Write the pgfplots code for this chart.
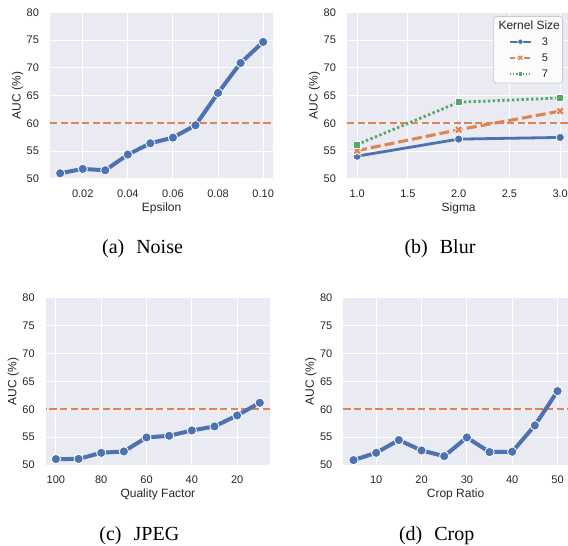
\documentclass[border=0pt]{standalone}
\usepackage{fontspec}
\setmainfont{Liberation Sans}
\newfontfamily\capfont{Liberation Serif}
\usepackage{pgfplots}
\usepackage{pgfplotstable}
\pgfplotsset{compat=1.18}
\definecolor{bgc}{HTML}{EAEAF2}
\definecolor{sblue}{HTML}{4C72B0}
\definecolor{sorange}{HTML}{DD8452}
\definecolor{sgreen}{HTML}{55A868}
\definecolor{txt}{HTML}{262626}
\definecolor{lgedge}{HTML}{CCCCCC}

\pgfdeclareplotmark{Xf}{%
  \pgftransformrotate{45}%
  \pgfpathmoveto{\pgfqpoint{0.38\pgfplotmarksize}{0.38\pgfplotmarksize}}%
  \pgfpathlineto{\pgfqpoint{0.38\pgfplotmarksize}{\pgfplotmarksize}}%
  \pgfpathlineto{\pgfqpoint{-0.38\pgfplotmarksize}{\pgfplotmarksize}}%
  \pgfpathlineto{\pgfqpoint{-0.38\pgfplotmarksize}{0.38\pgfplotmarksize}}%
  \pgfpathlineto{\pgfqpoint{-\pgfplotmarksize}{0.38\pgfplotmarksize}}%
  \pgfpathlineto{\pgfqpoint{-\pgfplotmarksize}{-0.38\pgfplotmarksize}}%
  \pgfpathlineto{\pgfqpoint{-0.38\pgfplotmarksize}{-0.38\pgfplotmarksize}}%
  \pgfpathlineto{\pgfqpoint{-0.38\pgfplotmarksize}{-\pgfplotmarksize}}%
  \pgfpathlineto{\pgfqpoint{0.38\pgfplotmarksize}{-\pgfplotmarksize}}%
  \pgfpathlineto{\pgfqpoint{0.38\pgfplotmarksize}{-0.38\pgfplotmarksize}}%
  \pgfpathlineto{\pgfqpoint{\pgfplotmarksize}{-0.38\pgfplotmarksize}}%
  \pgfpathlineto{\pgfqpoint{\pgfplotmarksize}{0.38\pgfplotmarksize}}%
  \pgfpathclose
  \pgfusepathqfillstroke}

\pgfplotstableread{
x y
0.01 51.02
0.02 51.80
0.03 51.56
0.04 54.38
0.05 56.42
0.06 57.44
0.07 59.66
0.08 65.48
0.09 70.88
0.10 74.66
}\noisedata

\pgfplotstableread{
x y
1 54.10
2 57.17
3 57.47
}\blurthree
\pgfplotstableread{
x y
1 55.10
2 58.86
3 62.20
}\blurfive
\pgfplotstableread{
x y
1 56.20
2 63.80
3 64.58
}\blurseven

\pgfplotstableread{
x y
100 51.07
90 51.10
80 52.20
70 52.44
60 54.95
50 55.25
40 56.20
30 56.93
20 58.90
10 61.17
}\jpegdata

\pgfplotstableread{
x y
5 50.89
10 52.20
15 54.48
20 52.62
25 51.60
30 54.95
35 52.33
40 52.39
45 57.10
50 63.26
}\cropdata

\pgfplotsset{
  sea/.style={
    scale only axis, width=167.5pt, height=125pt,
    axis background/.style={fill=bgc},
    axis line style={draw=none},
    major tick length=0pt, minor tick length=0pt,
    grid=major, major grid style={white, line width=0.8pt},
    ymin=50, ymax=80, ytick={50,55,60,65,70,75,80},
    tick label style={font=\fontsize{8.25}{9.9}\selectfont, text=txt, inner sep=0pt},
    xticklabel style={anchor=north, yshift=-7.7pt},
    yticklabel style={anchor=east, xshift=-8.1pt},
    /pgf/number format/assume math mode=true,
    label style={font=\fontsize{9}{10.8}\selectfont, text=txt, inner sep=0pt},
    xlabel style={at={(axis description cs:0.5,0)}, anchor=base, yshift=-24.4pt},
    ylabel style={at={([xshift=-20pt]axis description cs:0,0.5)}, anchor=south},
    ylabel={AUC (\%)},
    clip=false,
  },
  refline/.style={draw=sorange, line width=1.35pt, dash pattern=on 5.5pt off 2.5pt, forget plot, mark=none},
  mainline/.style={sblue, line width=3pt, mark=*, mark size=3.5pt,
    mark options={fill=sblue, draw=white, line width=0.6pt, solid}},
}

\begin{document}
\begin{tikzpicture}
\path[use as bounding box] (0pt,0pt) rectangle (426pt,-409.5pt);

% (a) Noise
\begin{axis}[sea, at={(37.5pt,-9.2pt)}, anchor=north west,
  xmin=0.0055, xmax=0.1045,
  xtick={0.02,0.04,0.06,0.08,0.10},
  xticklabels={0.02,0.04,0.06,0.08,0.10},
  xlabel={Epsilon}]
\addplot[mainline] table[x=x,y=y] {\noisedata};
\addplot[refline] coordinates {(0.0055,60) (0.1045,60)};
\end{axis}

% (b) Blur
\begin{axis}[sea, at={(260.25pt,-9.2pt)}, anchor=north west,
  xmin=0.9, xmax=3.1,
  xtick={1,1.5,2,2.5,3},
  xticklabels={1.0,1.5,2.0,2.5,3.0},
  xlabel={Sigma},
  legend style={at={(1,1)}, anchor=north east, xshift=-5.5pt, yshift=-2.8pt,
    inner xsep=2pt, inner ysep=4pt,
    nodes={inner sep=0pt, text depth=0pt, text height=6pt},
    column sep=7.3pt, row sep=6pt,
    font=\fontsize{8.25}{9.9}\selectfont, text=txt,
    fill=white!80!bgc, draw=lgedge, line width=0.6pt, rounded corners=2pt,
    cells={anchor=west}},
  legend image code/.code={\path (0pt,0pt);
    \draw[mark repeat=2,mark phase=2,#1] plot coordinates {(9.2pt,0pt) (17.35pt,0pt) (25.5pt,0pt)};}]
\addlegendimage{empty legend}
\addlegendentry{\hspace{-32.5pt}\fontsize{9}{10.8}\selectfont Kernel Size}
\addlegendimage{sblue, line width=1.3pt, mark=*, mark size=2pt, mark options={fill=sblue, draw=white, line width=0.4pt, solid}}
\addlegendentry{3}
\addlegendimage{sorange, line width=1.3pt, dash pattern=on 4pt off 1.5pt, mark=Xf, mark size=2.3pt, mark options={fill=sorange, draw=white, line width=0.4pt, solid}}
\addlegendentry{5}
\addlegendimage{sgreen, line width=1.3pt, dash pattern=on 1.2pt off 1.2pt, mark=square*, mark size=1.7pt, mark options={fill=sgreen, draw=white, line width=0.4pt, solid}}
\addlegendentry{7}
\addplot[refline] coordinates {(0.9,60) (3.1,60)};
\addplot[sblue, line width=2.1pt, mark=*, mark size=3.1pt, mark options={fill=sblue, draw=white, line width=0.5pt, solid}, forget plot] table[x=x,y=y] {\blurthree};
\addplot[sorange, line width=2.3pt, dash pattern=on 7.5pt off 3pt, mark=Xf, mark size=3.3pt, mark options={fill=sorange, draw=white, line width=0.5pt, solid}, forget plot] table[x=x,y=y] {\blurfive};
\addplot[sgreen, line width=2.1pt, dash pattern=on 1.8pt off 1.8pt, mark=square*, mark size=2.6pt, mark options={fill=sgreen, draw=white, line width=0.5pt, solid}, forget plot] table[x=x,y=y] {\blurseven};
\end{axis}

% (c) JPEG
\begin{axis}[sea, at={(34.3pt,-223.3pt)}, anchor=north west,
  width=168.2pt, height=125.5pt,
  x dir=reverse, xmin=5.5, xmax=104.5,
  xtick={20,40,60,80,100},
  xlabel={Quality Factor}]
\addplot[refline] coordinates {(5.5,60) (104.5,60)};
\addplot[mainline] table[x=x,y=y] {\jpegdata};
\end{axis}

% (d) Crop
\begin{axis}[sea, at={(257.5pt,-223.3pt)}, anchor=north west,
  width=168.3pt, height=125.5pt,
  xmin=2.75, xmax=52.25,
  xtick={10,20,30,40,50},
  xlabel={Crop Ratio}]
\addplot[refline] coordinates {(2.75,60) (52.25,60)};
\addplot[mainline] table[x=x,y=y] {\cropdata};
\end{axis}

\node[anchor=base, font=\capfont\fontsize{15}{18}\selectfont, text=black, inner sep=0pt] at (106.9pt,-189.75pt) {(a)\hspace{0.6em}Noise};
\node[anchor=base, font=\capfont\fontsize{15}{18}\selectfont, text=black, inner sep=0pt] at (330pt,-189.75pt) {(b)\hspace{0.6em}Blur};
\node[anchor=base, font=\capfont\fontsize{15}{18}\selectfont, text=black, inner sep=0pt] at (104.5pt,-405pt) {(c)\hspace{0.6em}JPEG};
\node[anchor=base, font=\capfont\fontsize{15}{18}\selectfont, text=black, inner sep=0pt] at (327.5pt,-405pt) {(d)\hspace{0.6em}Crop};
\end{tikzpicture}
\end{document}
